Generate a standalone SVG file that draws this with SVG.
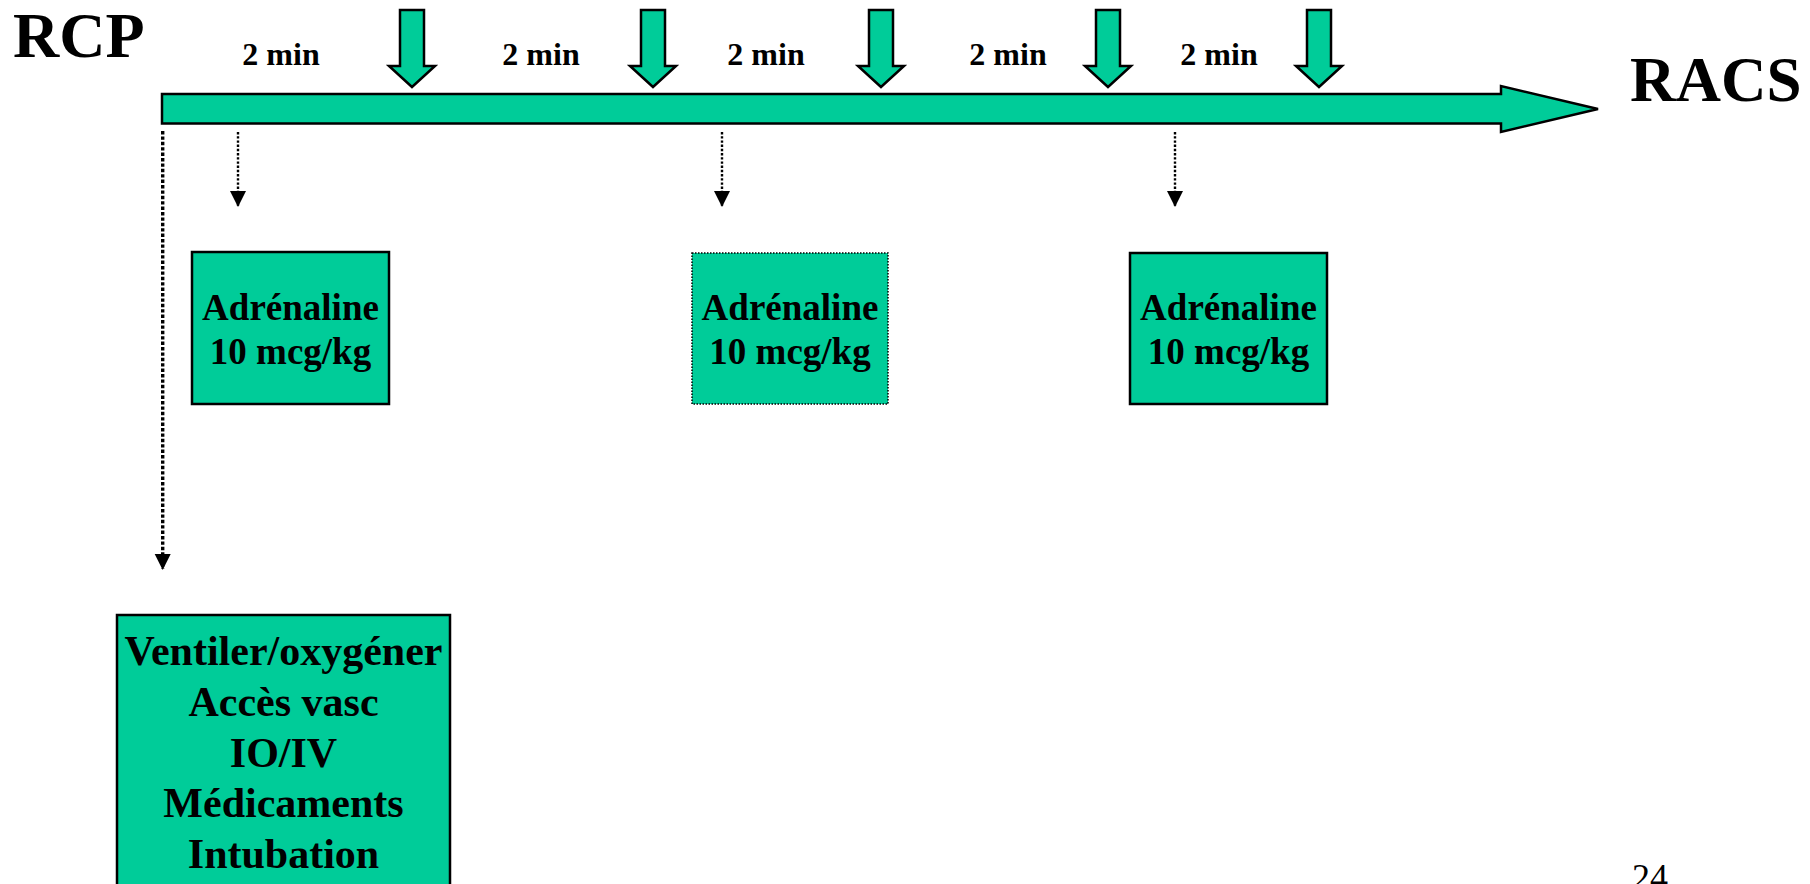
<svg xmlns="http://www.w3.org/2000/svg" width="1810" height="884" viewBox="0 0 1810 884">
<style>
.box{fill:#00CC99;stroke:#000;stroke-width:2.5}
.boxdot{fill:#00CC99;stroke:#000;stroke-width:1.5;stroke-dasharray:1.5 1.5}
.shape{fill:#00CC99;stroke:#000;stroke-width:2.5;stroke-linejoin:miter}
.t{font-family:"Liberation Serif","Times New Roman",serif;font-weight:bold;fill:#000;text-anchor:middle}
.lbl{font-size:32px}
.big{font-size:64px;text-anchor:start}
.nb{font-size:37px}
.nb2{font-size:42px}
.dot{fill:none;stroke:#000;stroke-width:2.4;stroke-dasharray:2.4 1.8}
.dotthick{fill:none;stroke:#000;stroke-width:3.4;stroke-dasharray:3.4 2}
</style>
<defs>
<marker id="ah" markerWidth="17" markerHeight="16" refX="8.5" refY="15" orient="0" markerUnits="userSpaceOnUse" viewBox="0 0 17 16">
<path d="M0.5,0 L16.5,0 L8.5,16 Z" fill="#000"/>
</marker>
</defs>
<rect width="1810" height="884" fill="#fff"/>
<g id="timeline">
<polygon class="shape" points="162,94 1501,94 1501,86 1598,109 1501,132 1501,123.5 162,123.5"/>
</g>
<g id="down-arrows">
<polygon class="shape" points="400,10 424,10 424,66 435,66 412,87 389,66 400,66"/>
<polygon class="shape" points="641,10 665,10 665,66 676,66 653,87 630,66 641,66"/>
<polygon class="shape" points="869,10 893,10 893,66 904,66 881,87 858,66 869,66"/>
<polygon class="shape" points="1096,10 1120,10 1120,66 1131,66 1108,87 1085,66 1096,66"/>
<polygon class="shape" points="1307,10 1331,10 1331,66 1342,66 1319,87 1296,66 1307,66"/>
</g>
<g id="labels">
<text class="t big" x="13" y="57">RCP</text>
<text class="t big" x="1630" y="101" style="font-size:63px">RACS</text>
<text class="t lbl" x="281" y="65">2 min</text>
<text class="t lbl" x="541" y="65">2 min</text>
<text class="t lbl" x="766" y="65">2 min</text>
<text class="t lbl" x="1008" y="65">2 min</text>
<text class="t lbl" x="1219" y="65">2 min</text>
<text x="1632" y="889" style="font-family:'Liberation Serif','Times New Roman',serif;font-size:36px;fill:#000">24</text>
</g>
<g id="connectors">
<line class="dot" x1="238" y1="132" x2="238" y2="206" marker-end="url(#ah)"/>
<line class="dot" x1="722" y1="132" x2="722" y2="206" marker-end="url(#ah)"/>
<line class="dot" x1="1175" y1="132" x2="1175" y2="206" marker-end="url(#ah)"/>
<line class="dotthick" x1="162.7" y1="131" x2="162.7" y2="569" marker-end="url(#ah)"/>
</g>
<g id="adre1">
<rect class="box" x="192" y="252" width="197" height="152"/>
<text class="t nb" x="290.5" y="320">Adrénaline</text>
<text class="t nb" x="290.5" y="364">10 mcg/kg</text>
</g>
<g id="adre2">
<rect class="boxdot" x="692" y="253" width="196" height="151"/>
<text class="t nb" x="790" y="320">Adrénaline</text>
<text class="t nb" x="790" y="364">10 mcg/kg</text>
</g>
<g id="adre3">
<rect class="box" x="1130" y="253" width="197" height="151"/>
<text class="t nb" x="1228.5" y="320">Adrénaline</text>
<text class="t nb" x="1228.5" y="364">10 mcg/kg</text>
</g>
<g id="actions">
<rect class="box" x="117" y="615" width="333" height="300"/>
<text class="t nb2" x="283.5" y="665">Ventiler/oxygéner</text>
<text class="t nb2" x="283.5" y="716">Accès vasc</text>
<text class="t nb2" x="283.5" y="767">IO/IV</text>
<text class="t nb2" x="283.5" y="817">Médicaments</text>
<text class="t nb2" x="283.5" y="868">Intubation</text>
</g>
</svg>
